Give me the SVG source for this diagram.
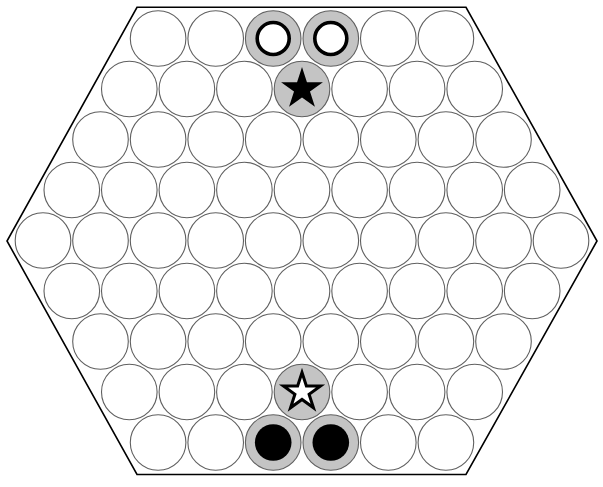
<svg xmlns="http://www.w3.org/2000/svg" width="603" height="487" viewBox="0 0 603 487">
<style>
.cell{fill:#fff;stroke:#606060;stroke-width:1.1}
.hl{fill:#c4c4c4;stroke:#606060;stroke-width:1.1}
.board{fill:#fff;stroke:#000;stroke-width:1.6}
</style>
<defs>
<circle id="cl" r="27.8"/>
</defs>
<rect width="603" height="487" fill="#fff"/>
<polygon id="board" class="board" points="137,7.3 466,7.3 597,241 466,474.5 137,474.5 7,241"/>
<g id="cells">
<g id="row0" transform="translate(0,38.5)">
<use href="#cl" class="cell" x="158.1"/><use href="#cl" class="cell" x="215.7"/><use href="#cl" class="cell" x="388.3"/><use href="#cl" class="cell" x="445.9"/>
</g>
<g id="row1" transform="translate(0,89)">
<use href="#cl" class="cell" x="129.3"/><use href="#cl" class="cell" x="186.9"/><use href="#cl" class="cell" x="244.4"/><use href="#cl" class="cell" x="359.6"/><use href="#cl" class="cell" x="417.1"/><use href="#cl" class="cell" x="474.7"/>
</g>
<g id="row2" transform="translate(0,139.5)">
<use href="#cl" class="cell" x="100.5"/><use href="#cl" class="cell" x="158.1"/><use href="#cl" class="cell" x="215.7"/><use href="#cl" class="cell" x="273.2"/><use href="#cl" class="cell" x="330.8"/><use href="#cl" class="cell" x="388.3"/><use href="#cl" class="cell" x="445.9"/><use href="#cl" class="cell" x="503.5"/>
</g>
<g id="row3" transform="translate(0,190)">
<use href="#cl" class="cell" x="71.8"/><use href="#cl" class="cell" x="129.3"/><use href="#cl" class="cell" x="186.9"/><use href="#cl" class="cell" x="244.4"/><use href="#cl" class="cell" x="302"/><use href="#cl" class="cell" x="359.6"/><use href="#cl" class="cell" x="417.1"/><use href="#cl" class="cell" x="474.7"/><use href="#cl" class="cell" x="532.2"/>
</g>
<g id="row4" transform="translate(0,240.5)">
<use href="#cl" class="cell" x="43"/><use href="#cl" class="cell" x="100.5"/><use href="#cl" class="cell" x="158.1"/><use href="#cl" class="cell" x="215.7"/><use href="#cl" class="cell" x="273.2"/><use href="#cl" class="cell" x="330.8"/><use href="#cl" class="cell" x="388.3"/><use href="#cl" class="cell" x="445.9"/><use href="#cl" class="cell" x="503.5"/><use href="#cl" class="cell" x="561"/>
</g>
<g id="row5" transform="translate(0,291)">
<use href="#cl" class="cell" x="71.8"/><use href="#cl" class="cell" x="129.3"/><use href="#cl" class="cell" x="186.9"/><use href="#cl" class="cell" x="244.4"/><use href="#cl" class="cell" x="302"/><use href="#cl" class="cell" x="359.6"/><use href="#cl" class="cell" x="417.1"/><use href="#cl" class="cell" x="474.7"/><use href="#cl" class="cell" x="532.2"/>
</g>
<g id="row6" transform="translate(0,341.5)">
<use href="#cl" class="cell" x="100.5"/><use href="#cl" class="cell" x="158.1"/><use href="#cl" class="cell" x="215.7"/><use href="#cl" class="cell" x="273.2"/><use href="#cl" class="cell" x="330.8"/><use href="#cl" class="cell" x="388.3"/><use href="#cl" class="cell" x="445.9"/><use href="#cl" class="cell" x="503.5"/>
</g>
<g id="row7" transform="translate(0,392)">
<use href="#cl" class="cell" x="129.3"/><use href="#cl" class="cell" x="186.9"/><use href="#cl" class="cell" x="244.4"/><use href="#cl" class="cell" x="359.6"/><use href="#cl" class="cell" x="417.1"/><use href="#cl" class="cell" x="474.7"/>
</g>
<g id="row8" transform="translate(0,442.5)">
<use href="#cl" class="cell" x="158.1"/><use href="#cl" class="cell" x="215.7"/><use href="#cl" class="cell" x="388.3"/><use href="#cl" class="cell" x="445.9"/>
</g>
</g>
<g id="white-ring-1" transform="translate(273.2,38.5)">
<circle class="hl" r="27.8"/><circle r="16" fill="#fff" stroke="#000" stroke-width="3.6"/>
</g>
<g id="white-ring-2" transform="translate(330.8,38.5)">
<circle class="hl" r="27.8"/><circle r="16" fill="#fff" stroke="#000" stroke-width="3.6"/>
</g>
<g id="black-star" transform="translate(302,89)">
<circle class="hl" r="27.8"/>
<polygon fill="#000" points="0,-22 4.94,-6.80 20.92,-6.80 7.99,2.60 12.93,17.80 0,8.4 -12.93,17.80 -7.99,2.60 -20.92,-6.80 -4.94,-6.80"/>
</g>
<g id="white-star" transform="translate(302,392)">
<circle class="hl" r="27.8"/>
<polygon fill="#fff" stroke="#000" stroke-width="3" stroke-linejoin="miter" points="0,-19.5 4.38,-6.03 18.54,-6.03 7.08,2.30 11.46,15.77 0,7.44 -11.46,15.77 -7.08,2.30 -18.54,-6.03 -4.38,-6.03"/>
</g>
<g id="black-disc-1" transform="translate(273.2,442.5)">
<circle class="hl" r="27.8"/><circle r="18.3" fill="#000"/>
</g>
<g id="black-disc-2" transform="translate(330.8,442.5)">
<circle class="hl" r="27.8"/><circle r="18.3" fill="#000"/>
</g>
</svg>
